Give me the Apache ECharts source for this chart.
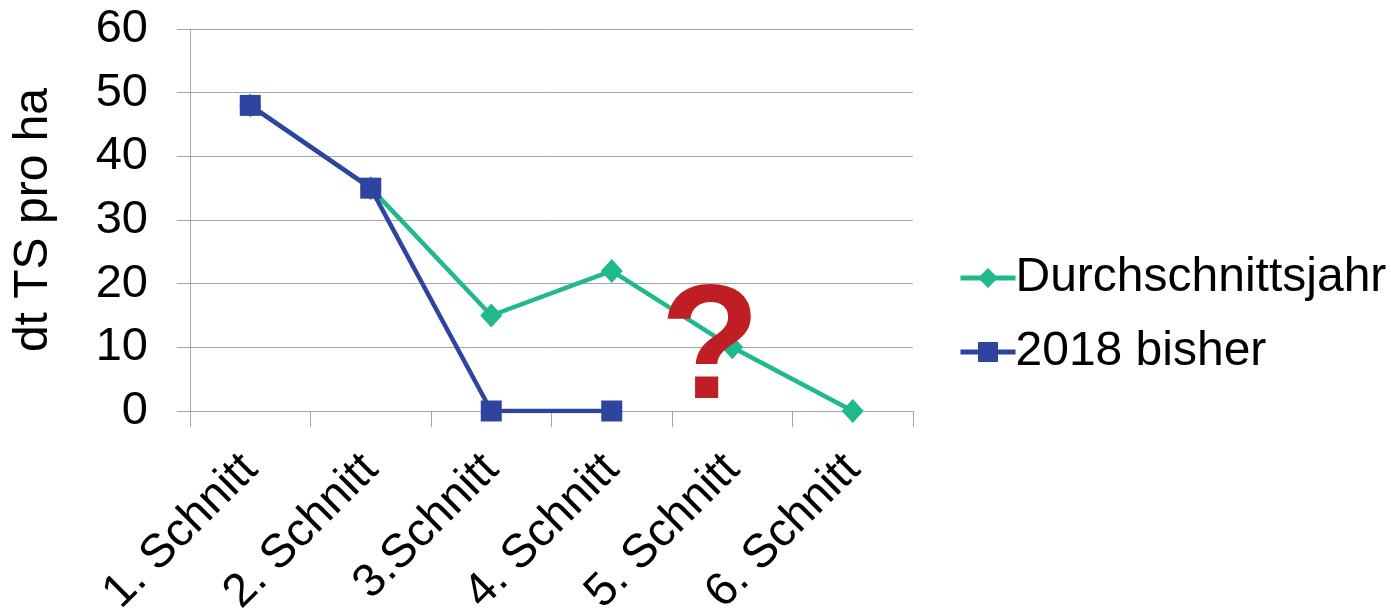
<!DOCTYPE html>
<html>
<head>
<meta charset="utf-8">
<script src="https://cdn.jsdelivr.net/npm/echarts@6/dist/echarts.min.js"></script>
<style>
  html, body { margin: 0; padding: 0; background: #ffffff; }
  #chart { width: 1391px; height: 610px; }
</style>
</head>
<body>
<div id="chart"></div>
<script>
// Cuttings of the season and yields in dt dry matter per hectare
const categories = ['1. Schnitt', '2. Schnitt', '3.Schnitt', '4. Schnitt', '5. Schnitt', '6. Schnitt'];
const averageYear = [48, 35, 15, 22, 10, 0];
const year2018 = [48, 35, 0, 0, null, null];
const yTicks = { min: 0, max: 60, interval: 10 };

const FONT = '"Liberation Sans", Arial, sans-serif';
const GRID = '#a6a6a6';
const GREEN = '#20b98c';
const BLUE = '#2f449e';
const FS = 47;

const chart = echarts.init(document.getElementById('chart'), null, { renderer: 'canvas' });

chart.setOption({
  animation: false,
  backgroundColor: '#ffffff',
  textStyle: { fontFamily: FONT, color: '#000000' },
  grid: {
    left: 190, right: 478, top: 29, bottom: 199,
    containLabel: false,
    outerBoundsMode: 'none'
  },
  xAxis: {
    type: 'category',
    data: categories,
    boundaryGap: true,
    axisLine: { show: true, lineStyle: { color: GRID, width: 1 } },
    axisTick: { show: true, length: 16, alignWithLabel: false, lineStyle: { color: GRID, width: 1 } },
    axisLabel: {
      interval: 0,
      rotate: 45,
      margin: 51,
      fontSize: FS,
      fontFamily: FONT,
      color: '#000000'
    },
    splitLine: { show: false }
  },
  yAxis: {
    type: 'value',
    min: yTicks.min,
    max: yTicks.max,
    interval: yTicks.interval,
    name: 'dt TS pro ha',
    nameLocation: 'middle',
    nameGap: 132,
    nameTextStyle: { fontSize: 48, fontFamily: FONT, color: '#000000' },
    axisLine: { show: true, lineStyle: { color: GRID, width: 1 } },
    axisTick: { show: true, length: 13, lineStyle: { color: GRID, width: 1 } },
    axisLabel: { fontSize: FS, fontFamily: FONT, color: '#000000', margin: 42 },
    splitLine: { show: true, lineStyle: { color: GRID, width: 1 } }
  },
  legend: {
    orient: 'vertical',
    left: 953,
    top: 249,
    itemWidth: 55,
    itemHeight: 25,
    itemGap: 26,
    lineStyle: { width: 5 },
    textStyle: { fontSize: 48, fontFamily: FONT, color: '#000000', padding: [0, 0, 0, -5] },
    data: ['Durchschnittsjahr', '2018 bisher']
  },
  series: [
    {
      name: 'Durchschnittsjahr',
      type: 'line',
      data: averageYear,
      symbol: 'diamond',
      symbolSize: [22, 24],
      itemStyle: { color: GREEN },
      lineStyle: { color: GREEN, width: 4.5 },
      z: 2
    },
    {
      name: '2018 bisher',
      type: 'line',
      data: year2018,
      symbol: 'rect',
      symbolSize: 21,
      connectNulls: false,
      itemStyle: { color: BLUE },
      lineStyle: { color: BLUE, width: 4.5 },
      z: 3
    }
  ],
  graphic: [
    {
      type: 'text',
      left: 660,
      top: 271,
      z: 10,
      style: {
        text: '?',
        fontSize: 164,
        fontWeight: 'bold',
        fontFamily: FONT,
        fill: '#be1e24'
      }
    }
  ]
});
</script>
</body>
</html>
